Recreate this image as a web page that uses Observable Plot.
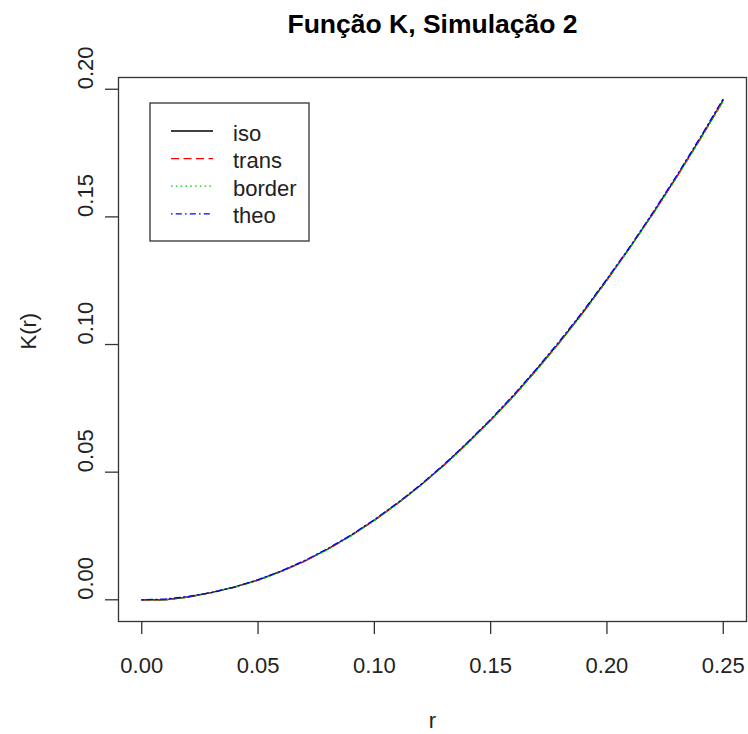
<!DOCTYPE html>
<html><head><meta charset="utf-8">
<script src="https://cdn.jsdelivr.net/npm/d3@7"></script>
<script src="https://cdn.jsdelivr.net/npm/@observablehq/plot@0.6"></script>
<style>body{margin:0;background:#fff;}</style>
</head><body><div id="chart"></div>
<script>
const title = "Função K, Simulação 2";
const xLabel = "r";
const yLabel = "K(r)";
const r = [0,0.01,0.02,0.03,0.04,0.05,0.06,0.07,0.08,0.09,0.10,0.11,0.12,0.13,0.14,0.15,0.16,0.17,0.18,0.19,0.20,0.21,0.22,0.23,0.24,0.25];
const iso    = [0,0,0.0011,0.0029,0.0051,0.0077,0.0112,0.0151,0.0199,0.0252,0.0312,0.0378,0.0450,0.0528,0.0614,0.0704,0.0800,0.0905,0.1013,0.1130,0.1254,0.1381,0.1517,0.1658,0.1805,0.1958];
const trans  = [0,0,0.0011,0.0028,0.0050,0.0077,0.0111,0.0151,0.0198,0.0252,0.0311,0.0377,0.0449,0.0528,0.0613,0.0703,0.0799,0.0903,0.1012,0.1128,0.1252,0.1382,0.1515,0.1656,0.1803,0.1955];
const border = [0,0,0.0010,0.0028,0.0049,0.0076,0.0110,0.0150,0.0197,0.0250,0.0310,0.0376,0.0448,0.0526,0.0611,0.0702,0.0797,0.0901,0.1010,0.1126,0.1250,0.1379,0.1514,0.1655,0.1801,0.1953];
const theo   = [0,0.0003,0.0013,0.0028,0.0050,0.0079,0.0113,0.0154,0.0201,0.0254,0.0314,0.0380,0.0452,0.0531,0.0616,0.0707,0.0804,0.0908,0.1018,0.1134,0.1257,0.1385,0.1521,0.1662,0.1810,0.1963];
const seriesNames = ["iso","trans","border","theo"];
const seriesValues = [iso, trans, border, theo];
const xTicks = [0,0.05,0.10,0.15,0.20,0.25];
const yTicks = [0,0.05,0.10,0.15,0.20];

const colors = ["#000000","#ff0000","#00cd00","#0000ff"];
const dashes = [null,"8,4.5","1.6,3.2","1.6,3.2,6,3.2"];
const font = "'Liberation Sans', Arial, sans-serif";
const fmt = d3.format(".2f");

const lineMarks = seriesNames.map((name, i) =>
  Plot.line(r.map((x, j) => ({r: x, k: seriesValues[i][j], series: name})), {
    x: "r", y: "k", stroke: colors[i], strokeWidth: 1.3,
    strokeDasharray: dashes[i] || undefined
  })
);

const plot = Plot.plot({
  width: 748, height: 734,
  marginLeft: 118, marginRight: 2, marginTop: 77, marginBottom: 113,
  style: {fontFamily: font, background: "#fff", overflow: "visible"},
  x: {domain: [-0.01, 0.26]},
  y: {domain: [-0.0085, 0.2046]},
  marks: [
    ...lineMarks,
    Plot.frame({stroke: "#333", strokeWidth: 1.3}),
    Plot.axisX({ticks: xTicks, tickSize: 13, tickFormat: () => "", label: null, stroke: "#333", strokeWidth: 1.3}),
    Plot.axisY({ticks: yTicks, tickSize: 13, tickFormat: () => "", label: null, stroke: "#333", strokeWidth: 1.3}),
    Plot.text(xTicks, {x: d => d, frameAnchor: "bottom", dy: 51, lineAnchor: "bottom", text: d => fmt(d), fontSize: 22, fill: "#222"}),
    Plot.text(yTicks, {y: d => d, frameAnchor: "left", dx: -26, rotate: -90, lineAnchor: "bottom", text: d => fmt(d), fontSize: 22, fill: "#222"}),
    Plot.text([xLabel], {frameAnchor: "bottom", dy: 106, lineAnchor: "bottom", text: d => d, fontSize: 22, fill: "#222"}),
    Plot.text([yLabel], {frameAnchor: "left", dx: -83, rotate: -90, lineAnchor: "bottom", text: d => d, fontSize: 22, fill: "#222"}),
    Plot.text([title], {frameAnchor: "top", dy: -45, lineAnchor: "bottom", text: d => d, fontSize: 26.5, fontWeight: "bold", fill: "#000"})
  ]
});
document.getElementById("chart").appendChild(plot);

// legend (R-style box, top-left inside the plot)
const svg = d3.select(plot);
const lg = svg.append("g").attr("font-family", font).attr("text-anchor", "start");
lg.append("rect").attr("x", 150).attr("y", 103).attr("width", 159).attr("height", 138)
  .attr("fill", "#fff").attr("stroke", "#333").attr("stroke-width", 1.3);
seriesNames.forEach((name, i) => {
  const y = 131 + i * 27.6;
  lg.append("line").attr("x1", 171).attr("x2", 213).attr("y1", y).attr("y2", y)
    .attr("stroke", colors[i]).attr("stroke-width", 1.3)
    .attr("stroke-dasharray", dashes[i]);
  lg.append("text").attr("x", 233).attr("y", y + 9.5).attr("font-size", 22)
    .attr("text-anchor", "start").attr("fill", "#222").text(name);
});
</script>
</body></html>
